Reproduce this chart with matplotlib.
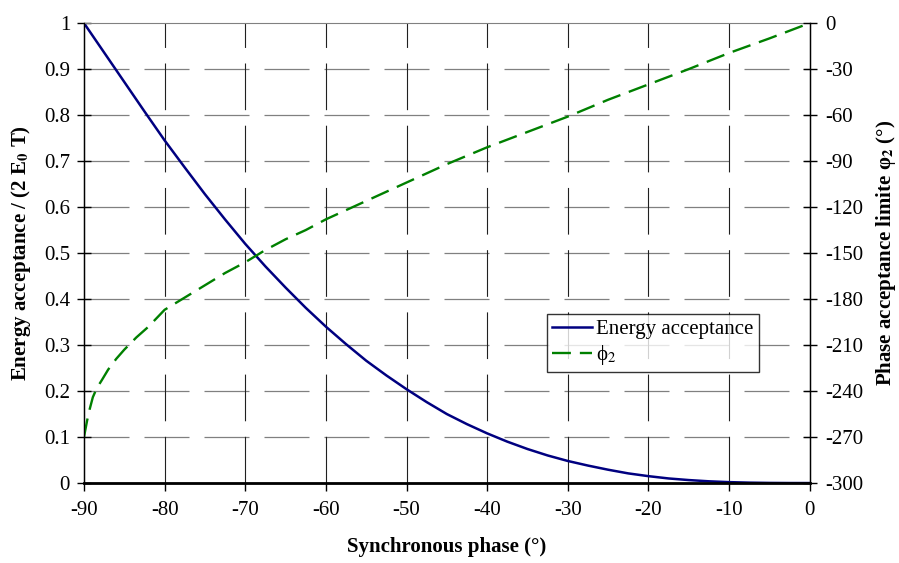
import numpy as np
import matplotlib.pyplot as plt

plt.rcParams['font.family'] = ['Liberation Serif', 'DejaVu Serif']
plt.rcParams['mathtext.fontset'] = 'stix'
plt.rcParams['axes.unicode_minus'] = False

phase = [-90, -87.5, -85, -82.5, -80, -77.5, -75, -72.5, -70, -67.5, -65, -62.5,
         -60, -57.5, -55, -52.5, -50, -47.5, -45, -42.5, -40, -37.5, -35, -32.5,
         -30, -27.5, -25, -22.5, -20, -17.5, -15, -12.5, -10, -7.5, -5, -2.5, 0]
energie = [1.0, 0.936, 0.872, 0.808, 0.745, 0.686, 0.628, 0.573, 0.52, 0.471,
           0.425, 0.381, 0.34, 0.302, 0.266, 0.234, 0.204, 0.176, 0.15, 0.128,
           0.108, 0.09, 0.074, 0.06, 0.048, 0.038, 0.029, 0.021, 0.015, 0.01,
           0.0065, 0.0038, 0.002, 0.0009, 0.0003, 0.00005, 0.0]

phase2 = [-90, -89.6, -89.3, -88.9, -88.4, -87.8, -87, -86, -85, -83.5, -82, -80,
          -77.5, -75, -72.5, -70, -67.5, -65, -62.5, -60, -55, -50, -45, -40,
          -35, -30, -25, -20, -15, -10, -5, 0]
phi2 = [-270, -259, -252, -244, -238, -233, -226, -219, -213, -205, -198, -187,
        -179, -171, -163, -156, -148, -141, -135, -128, -116, -104, -92, -81,
        -71, -61, -50, -40, -30, -19.5, -10, 0]

xticks = np.arange(-90, 1, 10)
yticks_links = np.arange(0, 1.01, 0.1)
yticks_rechts = np.arange(-300, 1, 30)

fig = plt.figure(figsize=(8.99, 5.63), dpi=100)
ax = fig.add_axes([0.0934, 0.142, 0.8073, 0.817])
ax2 = ax.twinx()

l1, = ax.plot(phase, energie, color='#000080', lw=1.8, label='Energy acceptance')
l2, = ax2.plot(phase2, phi2, color='#008000', lw=1.7, dashes=(8, 3.8), label='ϕ$_2$')

ax.set_xlim(-90, 0)
ax.set_ylim(0, 1)
ax2.set_ylim(-300, 0)

ax.set_xticks(xticks)
ax.set_xticklabels([f'{v:d}' for v in xticks])
ax.set_yticks(yticks_links)
ax.set_yticklabels(['0'] + [f'{v:.1f}' for v in yticks_links[1:-1]] + ['1'])
ax2.set_yticks(yticks_rechts)
ax2.set_yticklabels([f'{v:d}' for v in yticks_rechts])

# Gitter: horizontal grau, vertikal dunkel, gestrichelt
for y in yticks_links[1:-1]:
    ax.axhline(y, color='#808080', lw=0.9, dashes=(36, 12), zorder=0)
for x in xticks[1:-1]:
    ax.axvline(x, color='#202020', lw=0.8, dashes=(42, 14), zorder=0)

ax.spines['top'].set_color('#808080')
ax.spines['bottom'].set_linewidth(2)
ax.spines['left'].set_linewidth(1)
ax2.spines['right'].set_linewidth(1)
ax2.spines['top'].set_visible(False)

ax.tick_params(axis='x', labelsize=15, direction='out', length=6, width=1, pad=7)
ax.tick_params(axis='y', labelsize=15, direction='inout', length=10, width=1, pad=5)
ax2.tick_params(axis='y', labelsize=15, direction='inout', length=10, width=1, pad=6)

ax.set_xlabel('Synchronous phase (°)', fontsize=15, fontweight='bold', labelpad=12)
ax.set_ylabel(r'Energy acceptance / (2 E$_\mathbf{0}$ T)', fontsize=15,
              fontweight='bold', labelpad=8)
ax2.set_ylabel(r'Phase acceptance limite φ$_\mathbf{2}$ (°)', fontsize=15,
               fontweight='bold', labelpad=8)

leg = ax2.legend(handles=[l1, l2], loc='lower left', bbox_to_anchor=(0.638, 0.241),
                 fontsize=15, frameon=True, fancybox=False, edgecolor='black',
                 borderpad=0.25, handlelength=1.9, handletextpad=0.2, labelspacing=0.2,
                 borderaxespad=0)
leg.get_frame().set_linewidth(1)

fig.savefig('out.png', dpi=100)
